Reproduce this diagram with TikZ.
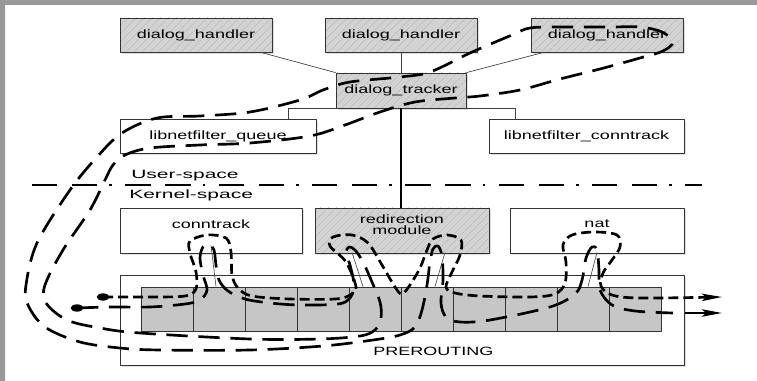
\documentclass[tikz,border=0pt]{standalone}
\usepackage{fontspec}
\setmainfont{Liberation Sans}[FakeStretch=1.5]
\newfontfamily\widefont{Liberation Sans}[FakeStretch=1.75]
\usetikzlibrary{arrows.meta,shadows,shapes.geometric,patterns.meta}
\begin{document}
\begin{tikzpicture}[x=0.75pt,y=-0.75pt,line join=round,font=\fontsize{9}{10.5}\selectfont,
 box/.style={draw=black!80,line width=0.6pt,inner sep=0pt,minimum height=25.5pt,
  drop shadow={shadow xshift=1.5pt,shadow yshift=-1.5pt,opacity=0.25}},
 plainbox/.style={box,fill=white},
 hatchbox/.style={box,preaction={fill=gray!35},pattern={Lines[angle=45,distance=4pt,line width=0.3pt]},pattern color=gray!60},
 modbox/.style={minimum height=33.75pt,minimum width=130.5pt},
 modlabel/.style={anchor=north,inner sep=0pt,yshift=-9pt,align=center},
 cell/.style={draw=black!80,line width=0.6pt,fill=gray!45,minimum width=39pt,minimum height=33pt,inner sep=0pt},
 link/.style={draw=black!75,line width=0.5pt},
 hookline/.style={draw=black!70,line width=0.5pt},
 dot/.style={ellipse,fill=black,inner sep=0pt,minimum width=9.5pt,minimum height=5.5pt},
 flowA/.style={line width=2pt,dash pattern=on 7.5pt off 3.75pt},
 flowB/.style={line width=2pt,dash pattern=on 16pt off 8pt},
 tip/.style={-{Stealth[length=15pt,width=5.5pt,inset=3pt]}},
 space/.style={anchor=base west,inner sep=0pt,font=\widefont\fontsize{9}{10.5}\selectfont}]
 \useasboundingbox (0,0) rectangle (757,381);
 \fill[white] (0,0) rectangle (757,381);
 \fill[black!40] (0,0) rectangle (757,5) (0,0) rectangle (5,381);
 \node[hatchbox,minimum width=114pt] (h1) at (196,35) {dialog\_handler};
 \node[hatchbox,minimum width=114pt] (h2) at (401,35) {dialog\_handler};
 \node[hatchbox,minimum width=114pt] (h3) at (607,35) {dialog\_handler};
 \node[hatchbox,minimum width=97.5pt,minimum height=26.25pt] (tracker) at (401,90.5) {dialog\_tracker};
 \node[plainbox,minimum width=147pt] (queue) at (218,136) {libnetfilter\_queue};
 \node[plainbox,minimum width=146.25pt] (lct) at (586.5,136) {libnetfilter\_conntrack};
 \draw[link] ([xshift=-9pt]h1.south east) -- (tracker.north west);
 \draw[link] (h2.south) -- (tracker.north);
 \draw[link] ([xshift=9.75pt]h3.south west) -- (tracker.north east);
 \draw[link] (tracker.south west) -| ([xshift=-21pt]queue.north east);
 \draw[link] (tracker.south east) -| ([xshift=20.25pt]lct.north west);
 \node[space] (user) at (131,179) {User-space};
 \node[space] (kernel) at (129,199) {Kernel-space};
 \coordinate (sepL) at (32,185);
 \coordinate (sepR) at (702,185);
 \draw[line width=1.5pt,dash pattern=on 19pt off 11pt on 19pt off 9pt on 2pt off 10pt] (sepL) -- (sepR);
 \node[plainbox,modbox,minimum width=136.5pt,label={[modlabel]north:conntrack}] (ct) at (211,230.5) {};
 \node[hatchbox,modbox,label={[modlabel,yshift=3.75pt]north:{redirection\\[-2.25pt]module}}] (rm) at (402,230.5) {};
 \node[plainbox,modbox,label={[modlabel]north:nat}] (nat) at (597,230.5) {};
 \draw[black,line width=1pt] (tracker.south) -- (tracker.south |- rm.north);
 \node[plainbox,minimum width=423pt,minimum height=67.5pt] (pre) at (402,320) {};
 \node[anchor=base west,inner sep=0pt] (prelabel) at (373,355) {PREROUTING};
 \foreach \i in {1,...,10}
  \node[cell] (c\i) at ({115+52*\i},309) {};
 \draw[hookline] ([yshift=6pt]ct.south) -- ([xshift=-2.25pt]c2.north);
 \draw[hookline] ([xshift=-37.5pt,yshift=0.75pt]rm.south) -- ([xshift=-9pt]c5.north);
 \draw[hookline] ([xshift=32.25pt,yshift=0.75pt]rm.south) -- ([xshift=6pt]c6.north);
 \draw[hookline] ([yshift=0.75pt]nat.south) -- ([xshift=3.75pt]c9.north);
 \node[dot] (inA) at (103,297) {};
 \node[dot] (inB) at (77,308) {};
 \coordinate (outA) at (722,297);
 \coordinate (endB) at (685,313);
 \coordinate (outB) at (722,313);
 \draw[flowA,tip] plot[smooth,tension=0.55] coordinates {(inA) (150,297) (185,296) (196,289) (196,272) (190,253) (190,241) (207,235) (226,238) (231,252) (232,275) (238,288) (252,296) (290,299) (335,299) (350,295) (356,287) (346,262) (330,246) (333,237) (352,235) (368,243) (382,265) (395,287) (402,294) (410,285) (420,268) (427,250) (433,239) (447,235) (461,240) (460,255) (452,272) (446,287) (455,293) (480,296) (530,297) (555,294) (565,283) (566,262) (563,245) (572,235) (595,232) (617,235) (620,247) (612,260) (603,273) (601,286) (612,295) (640,298) (outA)};
 \draw[flowB] plot[smooth,tension=0.55] coordinates {(inB) (110,307) (150,307) (185,304) (200,300) (207,290) (203,275) (200,258) (203,247) (209,244) (214,250) (216,265) (219,280) (228,291) (245,299) (270,303) (300,305) (338,304) (350,298) (354,285) (350,265) (346,253) (349,247) (355,250) (363,262) (372,282) (380,302) (381,318) (375,330) (360,336) (320,339) (250,339) (140,333) (100,328) (67,320) (46,303) (45,285) (63,250) (90,210) (105,180) (113,165) (125,155) (150,148) (200,145) (250,143) (310,136) (345,125) (380,112) (415,102) (455,98) (480,96) (520,90) (560,79) (600,69) (640,58) (663,51) (673,42) (662,32) (640,27) (610,27) (560,27) (530,28) (512,35) (470,53) (430,72) (400,77) (350,82) (323,90) (300,100) (250,112) (200,116) (157,118) (122,133) (97,157) (70,190) (37,243) (26,285) (28,305) (45,327) (80,342) (120,348) (160,350) (250,350) (323,346) (373,340) (400,335) (415,327) (422,310) (427,285) (430,262) (433,249) (438,246) (442,256) (443,280) (441,303) (446,317) (460,322) (490,320) (550,307) (575,294) (582,280) (586,258) (592,247) (597,250) (599,270) (600,290) (612,305) (635,311) (673,313)};
 \draw[line width=2pt,tip] (endB) -- (outB);
\end{tikzpicture}
\end{document}
